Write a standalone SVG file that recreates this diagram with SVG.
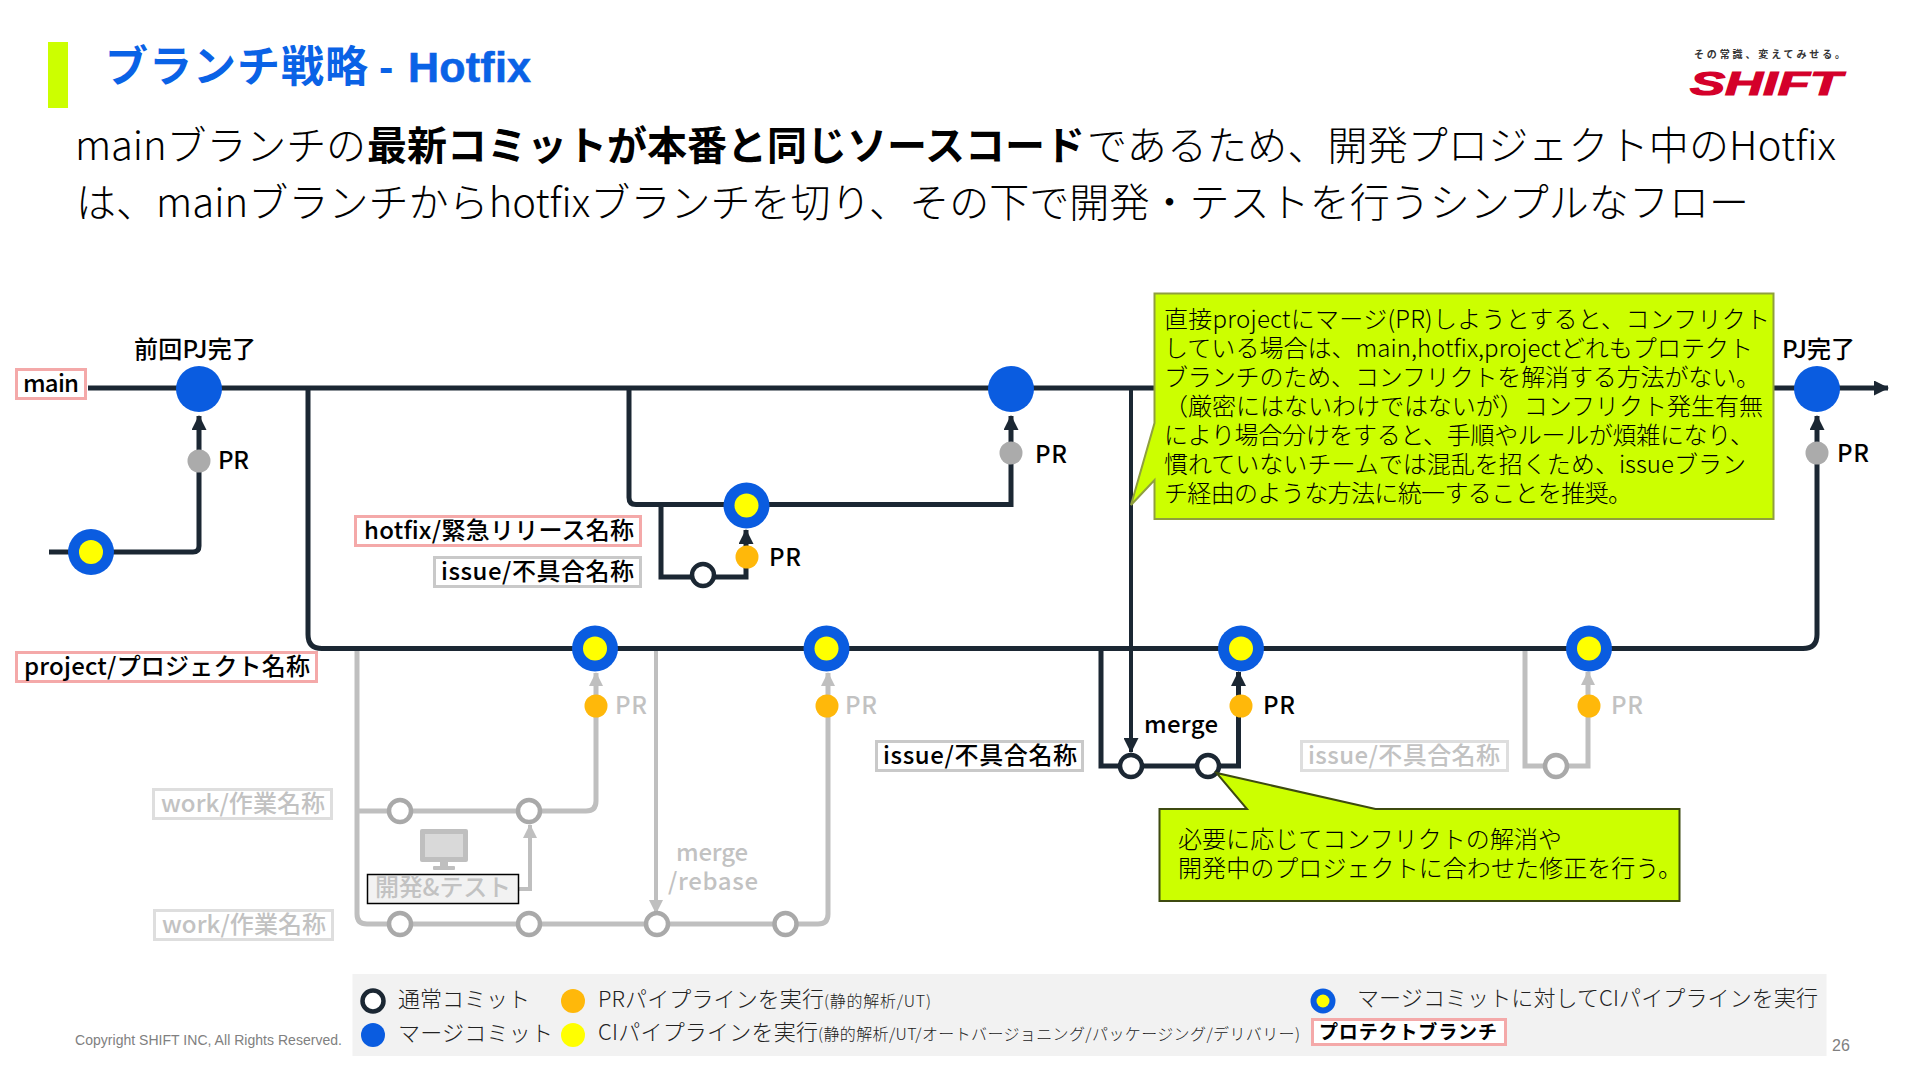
<svg xmlns="http://www.w3.org/2000/svg" width="1920" height="1080" viewBox="0 0 1920 1080">
<style>
text{font-family:"Noto Sans CJK JP","Noto Sans",sans-serif;fill:#000}
.body{font-size:40px;font-weight:300}
.b{font-weight:700}
.call{font-size:24px;font-weight:300}
.lb{font-size:24px;font-weight:500}
.pr{font-size:24px;font-weight:500}
.fd{fill:#c2c2c2}
.leg{font-size:22px;font-weight:300;fill:#222}
.sm{font-size:16px;font-weight:300;fill:#222}
.line{fill:none;stroke:#1b2733;stroke-width:5}
.thin{fill:none;stroke:#1b2733;stroke-width:4}
.gl{fill:none;stroke:#bfbfbf;stroke-width:5}
.gt{fill:none;stroke:#bfbfbf;stroke-width:4}
.box-p{fill:#fff;stroke:#f4a9a9;stroke-width:3}
.box-g{fill:#fff;stroke:#c9c9c9;stroke-width:3}
.box-f{fill:#fff;stroke:#dedede;stroke-width:3}
.blue{fill:#0a5ce0}
.yel{fill:#ffff00}
.org{fill:#ffb80a}
.gry{fill:#ababab}
.cm{fill:#fff;stroke:#1b2733;stroke-width:4.5}
.cg{fill:#fff;stroke:#a9a9a9;stroke-width:4.5}
.co{fill:#ccff00;stroke-width:2}
.ttl{font-family:'Liberation Sans','Noto Sans CJK JP',sans-serif;font-weight:700;fill:#0a62e6}
</style>
<defs>
<marker id="ad" markerUnits="userSpaceOnUse" markerWidth="15" markerHeight="15" refX="14" refY="7.500" orient="auto"><path d="M0 0L15 7.500L0 15Z" fill="#1b2733"/></marker>
<marker id="ag" markerUnits="userSpaceOnUse" markerWidth="14" markerHeight="14" refX="13" refY="7" orient="auto"><path d="M0 0L14 7L0 14Z" fill="#bfbfbf"/></marker>
</defs>

<g id="header">
<rect x="48" y="42" width="20" height="66" fill="#ccff00"/>
<text class="ttl" x="105" y="82" textLength="263" style="font-size:43px">ブランチ戦略</text>
<text class="ttl" x="379" y="82" style="font-size:43px">-</text>
<text class="ttl" x="408" y="82" textLength="123" style="font-size:43px;stroke:#0a62e6;stroke-width:.6">Hotfix</text>
<text class="body" x="75" y="160" textLength="291">mainブランチの</text>
<text class="body b" x="367" y="160">最新コミットが本番と同じソースコード</text>
<text class="body" x="1087" y="160" textLength="749" lengthAdjust="spacing">であるため、開発プロジェクト中のHotfix</text>
<text class="body" x="76" y="217" textLength="1673" lengthAdjust="spacing">は、mainブランチからhotfixブランチを切り、その下で開発・テストを行うシンプルなフロー</text>
</g>
<g id="logo">
<text x="1694" y="58" textLength="151" style="font-size:10px;font-weight:700;fill:#333">その常識、変えてみせる。</text>
<text x="1690" y="95" textLength="152" lengthAdjust="spacingAndGlyphs" style="font-family:'Liberation Sans',sans-serif;font-size:34px;font-weight:700;font-style:italic;fill:#d4002a;stroke:#d4002a;stroke-width:1.200">SHIFT</text>
</g>

<g id="connectors">
<path class="gl" d="M357 648V914Q357 924 367 924H818Q828 924 828 914V673" marker-end="url(#ag)"/>
<path class="gl" d="M357 811H586Q596 811 596 801V673" marker-end="url(#ag)"/>
<path class="gt" d="M656 648V913" marker-end="url(#ag)"/>
<path class="gt" d="M519 889H530V825" marker-end="url(#ag)"/>
<path class="gl" d="M1525 648V766H1588V672" marker-end="url(#ag)"/>
<path class="line" d="M88 388H1888" marker-end="url(#ad)"/>
<path class="line" d="M49 552H193Q199 552 199 546V416" marker-end="url(#ad)"/>
<path class="line" d="M308 388V634.500Q308 648.500 322 648.500H1803Q1817 648.500 1817 634.500V416" marker-end="url(#ad)"/>
<path class="line" d="M629 388V497.500Q629 504.500 636 504.500H1011V416" marker-end="url(#ad)"/>
<path class="line" d="M661 504.500V577H746V530" marker-end="url(#ad)"/>
<path class="line" d="M1101 648.500V766H1238.500V672" marker-end="url(#ad)"/>
<path class="thin" d="M1131 388V752" marker-end="url(#ad)"/>
</g>

<g id="node-main-prev"><circle class="blue" cx="199" cy="389" r="23"/></g>
<g id="node-prev-merge"><circle class="blue" cx="91" cy="552" r="23"/><circle class="yel" cx="91" cy="552" r="12"/></g>
<g id="node-main-hotfix"><circle class="blue" cx="1011" cy="389" r="23"/></g>
<g id="node-main-done"><circle class="blue" cx="1817" cy="389" r="23"/></g>
<g id="node-hotfix-merge"><circle class="blue" cx="746.500" cy="505.500" r="23"/><circle class="yel" cx="746.500" cy="505.500" r="12"/></g>
<g id="node-hotfix-commit"><circle class="cm" cx="703" cy="575" r="11"/></g>
<g id="node-p1"><circle class="blue" cx="595" cy="648.500" r="23"/><circle class="yel" cx="595" cy="648.500" r="12"/></g>
<g id="node-p2"><circle class="blue" cx="826.500" cy="648.500" r="23"/><circle class="yel" cx="826.500" cy="648.500" r="12"/></g>
<g id="node-p3"><circle class="blue" cx="1241" cy="648.500" r="23"/><circle class="yel" cx="1241" cy="648.500" r="12"/></g>
<g id="node-p4"><circle class="blue" cx="1589" cy="648.500" r="23"/><circle class="yel" cx="1589" cy="648.500" r="12"/></g>
<g id="pr-dots">
<circle class="gry" cx="199" cy="461" r="11.500"/><circle class="gry" cx="1011" cy="453" r="11.500"/><circle class="gry" cx="1817" cy="453" r="11.500"/>
<circle class="org" cx="747" cy="557" r="11.500"/><circle class="org" cx="596" cy="706" r="11.500"/><circle class="org" cx="827" cy="706" r="11.500"/><circle class="org" cx="1241" cy="706" r="11.500"/><circle class="org" cx="1589" cy="706" r="11.500"/>
</g>
<g id="commits-issue"><circle class="cm" cx="1131" cy="766" r="11"/><circle class="cm" cx="1208" cy="766" r="11"/></g>
<g id="commits-faded">
<circle class="cg" cx="400" cy="811" r="11"/><circle class="cg" cx="529" cy="811" r="11"/>
<circle class="cg" cx="400" cy="924" r="11"/><circle class="cg" cx="529" cy="924" r="11"/><circle class="cg" cx="657" cy="924" r="11"/><circle class="cg" cx="785.500" cy="924" r="11"/>
<circle class="cg" cx="1556" cy="766" r="11"/>
</g>
<g id="monitor">
<rect x="420" y="829" width="48" height="33" rx="2" fill="#bfbfbf"/><rect x="425" y="834" width="38" height="23" fill="#d9d9d9"/>
<rect x="440" y="862" width="8" height="5" fill="#bfbfbf"/><rect x="433" y="866" width="22" height="4" rx="1" fill="#bfbfbf"/>
</g>
<g id="dev-test"><rect x="367.500" y="874.500" width="151" height="29" fill="#f2f2f2" stroke="#000" stroke-width="1.500"/><text class="lb fd" x="375" y="896" textLength="136" font-weight="400">開発&amp;テスト</text></g>

<g id="labels">
<g id="lb-main"><rect class="box-p" x="16.500" y="369.500" width="69" height="29"/><text class="lb" x="23" y="392" textLength="56">main</text></g>
<g id="lb-hotfix"><rect class="box-p" x="355.500" y="516.500" width="285" height="29"/><text class="lb" x="364" y="539" textLength="270">hotfix/緊急リリース名称</text></g>
<g id="lb-issue1"><rect class="box-g" x="434.500" y="557.500" width="206" height="29"/><text class="lb" x="441" y="580" textLength="193">issue/不具合名称</text></g>
<g id="lb-project"><rect class="box-p" x="16.500" y="652.500" width="300" height="29"/><text class="lb" x="24" y="675" textLength="286">project/プロジェクト名称</text></g>
<g id="lb-issue2"><rect class="box-g" x="876.500" y="741.500" width="206" height="29"/><text class="lb" x="883" y="764" textLength="194">issue/不具合名称</text></g>
<g id="lb-issue3"><rect class="box-f" x="1301.500" y="741.500" width="206" height="29"/><text class="lb fd" x="1308" y="764" textLength="192" font-weight="400">issue/不具合名称</text></g>
<g id="lb-work1"><rect class="box-f" x="153.500" y="789.500" width="178" height="29"/><text class="lb fd" x="161" y="812" textLength="164" font-weight="400">work/作業名称</text></g>
<g id="lb-work2"><rect class="box-f" x="154.500" y="910.500" width="178" height="29"/><text class="lb fd" x="162" y="933" textLength="164" font-weight="400">work/作業名称</text></g>
</g>

<g id="texts">
<text class="lb" x="134" y="358" textLength="122">前回PJ完了</text>
<text class="lb" x="1782" y="358" textLength="73">PJ完了</text>
<text class="pr" x="218" y="469" textLength="31">PR</text>
<text class="pr" x="1035" y="463" textLength="32">PR</text>
<text class="pr" x="1837" y="462" textLength="32">PR</text>
<text class="pr" x="769" y="566" textLength="32">PR</text>
<text class="pr" x="1263" y="714" textLength="32">PR</text>
<text class="pr fd" x="615" y="714" textLength="32">PR</text>
<text class="pr fd" x="845" y="714" textLength="32">PR</text>
<text class="pr fd" x="1611" y="714" textLength="32">PR</text>
<text class="lb" x="1144" y="733" textLength="74">merge</text>
<text class="lb fd" x="676" y="861" textLength="72">merge</text>
<text class="lb fd" x="668" y="890" textLength="90">/rebase</text>
</g>

<g id="callout-top">
<path class="co" stroke="#8f9f3f" d="M1154.500 293.500H1773.500V519H1154.500V480L1131 505L1154.500 423Z"/>
<text class="call" x="1164" y="328" textLength="606">直接projectにマージ(PR)しようとすると、コンフリクト</text>
<text class="call" x="1164" y="357" textLength="589">している場合は、main,hotfix,projectどれもプロテクト</text>
<text class="call" x="1164" y="386" textLength="596">ブランチのため、コンフリクトを解消する方法がない。</text>
<text class="call" x="1164" y="415" textLength="599">（厳密にはないわけではないが）コンフリクト発生有無</text>
<text class="call" x="1164" y="444" textLength="590">により場合分けをすると、手順やルールが煩雑になり、</text>
<text class="call" x="1164" y="473" textLength="582">慣れていないチームでは混乱を招くため、issueブラン</text>
<text class="call" x="1164" y="502" textLength="468">チ経由のような方法に統一することを推奨。</text>
</g>
<g id="callout-bottom">
<path class="co" stroke="#3d4a10" d="M1159.500 809H1247L1216.500 773L1375.500 809H1679.500V901H1159.500Z"/>
<text class="call" x="1178" y="848" textLength="384">必要に応じてコンフリクトの解消や</text>
<text class="call" x="1178" y="877" textLength="504">開発中のプロジェクトに合わせた修正を行う。</text>
</g>

<g id="legend">
<rect x="352.500" y="974" width="1474" height="82" fill="#f2f2f2"/>
<circle class="cm" cx="373" cy="1001" r="10.500"/><circle class="blue" cx="373" cy="1035" r="12"/>
<circle class="org" cx="573" cy="1001" r="12"/><circle class="yel" cx="573" cy="1035" r="12"/>
<circle class="blue" cx="1323" cy="1001" r="12.500"/><circle class="yel" cx="1323" cy="1001" r="6.500"/>
<text class="leg" x="398" y="1007" textLength="132">通常コミット</text>
<text class="leg" x="398" y="1041" textLength="155">マージコミット</text>
<text class="leg" x="598" y="1007" textLength="226">PRパイプラインを実行</text>
<text class="sm" x="824" y="1007" textLength="107">(静的解析/UT)</text>
<text class="leg" x="598" y="1040" textLength="220">CIパイプラインを実行</text>
<text class="sm" x="818" y="1040" textLength="482">(静的解析/UT/オートバージョニング/パッケージング/デリバリー)</text>
<text class="leg" x="1357" y="1006" textLength="461">マージコミットに対してCIパイプラインを実行</text>
<rect class="box-p" x="1312.500" y="1019.500" width="193" height="25"/>
<text x="1319" y="1039" textLength="178" style="font-size:19px;font-weight:700">プロテクトブランチ</text>
</g>
<g id="footer">
<text x="75" y="1045" textLength="267" style="font-family:'Liberation Sans',sans-serif;font-size:14px;fill:#808080">Copyright SHIFT INC, All Rights Reserved.</text>
<text x="1832" y="1051" style="font-family:'Liberation Sans',sans-serif;font-size:16px;fill:#808080">26</text>
</g>
</svg>
